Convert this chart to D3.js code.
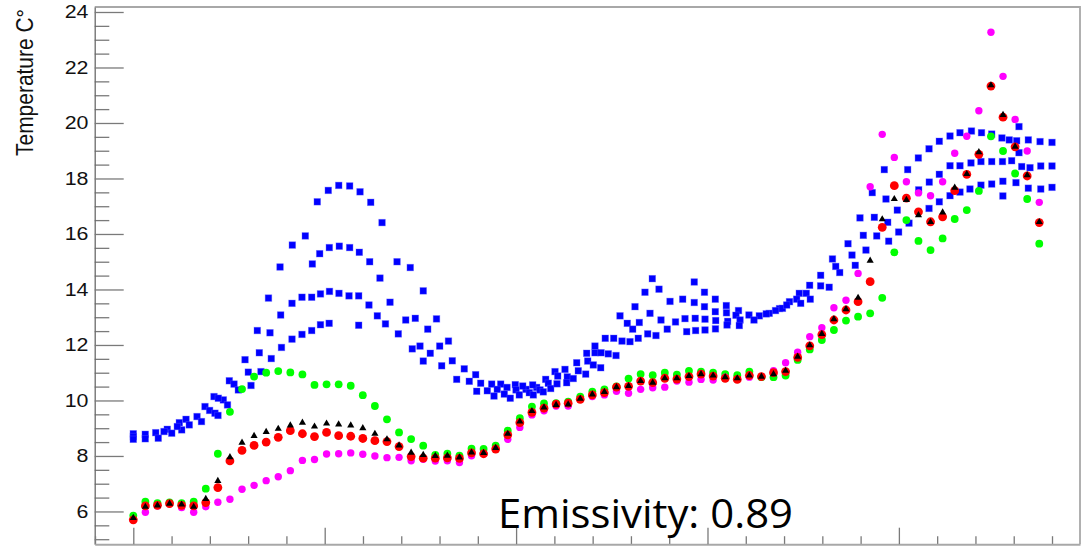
<!DOCTYPE html>
<html>
<head>
<meta charset="utf-8">
<script src="https://cdn.jsdelivr.net/npm/d3@7/dist/d3.min.js"></script>
<style>
  html, body { margin: 0; padding: 0; background: #fff; overflow: hidden; }
  svg { display: block; }
</style>
</head>
<body>
<svg id="chart" width="1084" height="551"></svg>
<script>
// Logger sample interval (hours) for the four computed series
const sampleStep = 1.5147;

// Computed surface temperatures, one value per sample (deg C)
const greenTemps = [5.85,6.35,6.30,6.33,6.30,6.35,6.82,8.08,9.59,10.41,10.86,11.00,11.06,11.01,10.94,10.56,10.58,10.58,10.53,10.19,
  9.80,9.32,8.85,8.61,8.37,8.04,8.08,8.01,8.26,8.25,8.37,8.91,9.36,9.78,9.89,9.90,9.96,10.14,10.32,10.40,
  10.51,10.79,10.95,10.91,11.00,10.93,11.07,11.04,11.00,10.95,10.91,11.04,10.84,10.84,10.90,11.46,11.84,12.18,12.54,12.88,
  13.02,13.14,13.70,15.34,16.50,15.75,15.42,15.84,16.54,16.86,17.55,19.52,18.99,18.18,17.26,15.65];

const magentaTemps = [5.69,5.97,6.20,6.28,6.14,5.97,6.17,6.33,6.44,6.80,6.94,7.11,7.25,7.47,7.84,7.87,8.07,8.08,8.11,8.06,
  8.00,7.94,7.95,7.83,7.88,7.82,7.83,7.76,8.01,8.08,8.25,8.60,9.03,9.48,9.63,9.80,9.80,10.04,10.14,10.20,
  10.33,10.26,10.40,10.46,10.48,10.70,10.66,10.76,10.74,10.84,10.77,10.84,10.86,11.07,11.36,11.74,12.30,12.62,13.34,13.61,
  14.58,17.70,19.59,18.76,17.88,17.48,17.38,17.88,18.91,19.52,20.44,23.27,21.68,20.13,18.99,17.14];

const redTemps = [5.70,6.20,6.22,6.28,6.22,6.20,6.32,6.86,7.82,8.20,8.38,8.50,8.67,8.91,8.80,8.70,8.85,8.73,8.71,8.63,
  8.55,8.52,8.34,7.98,7.92,7.92,7.93,7.91,8.11,8.08,8.25,8.76,9.20,9.57,9.72,9.87,9.90,10.04,10.20,10.28,
  10.48,10.51,10.70,10.64,10.80,10.77,10.86,10.95,10.88,10.80,10.76,10.90,10.86,11.00,11.04,11.55,11.97,12.37,12.90,13.26,
  13.56,14.28,16.24,17.74,17.29,16.80,16.44,16.62,17.56,18.15,18.87,21.33,20.21,19.14,18.09,16.41];

const blackTemps = [5.77,6.17,6.22,6.28,6.25,6.17,6.45,7.10,7.96,8.48,8.72,8.87,8.98,9.10,9.20,9.06,9.17,9.14,9.10,9.00,
  8.80,8.60,8.38,8.12,8.04,8.00,8.01,7.95,8.13,8.11,8.29,8.80,9.24,9.62,9.75,9.84,9.86,10.06,10.22,10.31,
  10.48,10.52,10.70,10.64,10.80,10.80,10.88,10.95,10.90,10.84,10.80,10.90,10.86,10.95,11.07,11.58,11.99,12.40,12.93,13.29,
  13.70,15.04,16.53,17.26,17.23,16.68,16.43,16.78,17.67,18.16,18.95,21.36,20.29,19.15,18.12,16.43];

// Thermocouple readings: [hours, deg C]
const probe1 = [[0,8.80],[1.50,8.78],[2.81,8.84],[4.26,8.96],[5.77,9.20],[6.61,9.32],[7.99,9.42],[8.99,9.78],[10.12,10.14],[11.29,10.02],
  [12.04,10.71],[12.63,10.59],[14.01,11.47],[15.55,12.52],[16.95,13.69],[18.40,14.81],[19.94,15.60],[21.57,15.93],[23.07,17.16],[24.45,17.57],
  [25.76,17.75],[27.13,17.73],[28.43,17.52],[29.77,17.14],[31.19,16.41],[33.07,15.00],[34.73,14.79],[36.36,13.95],[38.02,12.94],[39.52,12.14],
  [41.50,11.14],[42.93,10.93],[44.94,10.59],[46.07,10.59],[47.90,10.57],[49.24,10.40],[50.58,10.47],[51.71,10.76],[52.88,11.04],[54.13,11.12],
  [55.60,11.36],[56.85,11.70],[57.89,11.96],[59.18,12.24],[61.03,13.05],[62.91,13.38],[64.16,13.90],[65.08,14.39],[65.92,14.01],[67.30,13.57],
  [68.89,13.65],[70.34,14.27],[71.62,13.90],[72.98,13.65],[74.36,13.42],[75.89,13.24],[77.20,13.08],[78.50,13.05],[79.74,13.14],[81.03,13.31],
  [82.28,13.56],[83.51,13.86],[84.81,14.15],[86.19,14.51],[87.67,15.10],[89.62,15.65],[91.12,16.58],[92.66,17.49],[94.17,18.32],[97.10,18.32],
  [98.44,18.74],[99.78,19.07],[101.07,19.34],[102.41,19.53],[103.66,19.65],[105.10,19.71],[106.36,19.65],[107.64,19.60],[108.92,19.46],[110.77,19.36],
  [112.23,19.39],[113.70,19.33],[115.20,19.30]];

const probe2 = [[0,8.70],[1.50,8.62],[3.13,8.64],[4.82,8.82],[6.07,8.94],[8.55,9.24],[9.57,9.64],[10.66,10.08],[11.81,9.84],[13.17,10.38],
  [14.42,11.02],[15.80,11.72],[17.14,12.44],[18.48,13.08],[19.90,13.50],[21.15,13.72],[22.45,14.92],[23.37,15.29],[24.58,15.51],[25.83,15.56],
  [27.13,15.51],[28.34,15.34],[29.64,15.00],[30.93,14.41],[32.19,13.54],[34.16,12.90],[35.36,12.96],[36.92,12.57],[38.42,11.96],[40.00,11.43],
  [42.13,10.69],[43.56,10.62],[45.64,10.40],[46.86,10.47],[48.83,10.52],[50.08,10.56],[52.04,10.62],[53.22,10.88],[54.42,10.85],[55.80,11.07],
  [56.98,11.42],[57.89,11.72],[58.65,11.72],[60.24,12.24],[61.94,12.78],[63.45,12.81],[64.79,13.14],[66.17,12.90],[67.99,12.83],[69.18,12.95],
  [70.34,13.53],[71.62,13.38],[72.98,13.20],[74.38,13.16],[75.57,13.07],[76.08,12.90],[77.83,12.90],[79.37,13.12],[80.53,13.24],[81.40,13.32],
  [81.93,13.44],[83.18,13.65],[84.39,13.86],[86.19,14.13],[88.08,14.83],[90.12,15.24],[91.54,15.95],[92.92,16.60],[94.38,17.26],[95.80,16.86],
  [97.27,16.39],[98.48,17.59],[99.81,17.87],[101.07,18.15],[102.41,18.46],[103.66,18.46],[105.04,18.56],[106.29,18.61],[107.64,18.61],[108.99,18.61],
  [110.14,18.64],[111.06,19.87],[112.44,18.39],[113.79,18.45],[115.20,18.45]];

const probe3 = [[0,8.60],[5.52,9.06],[7.02,9.12],[10.24,9.54],[14.76,10.54],[16.01,11.04],[17.30,11.51],[18.58,11.91],[19.90,12.21],[21.15,12.38],
  [22.37,13.72],[23.47,13.84],[24.60,13.93],[25.79,13.86],[27.05,13.77],[28.26,13.77],[29.55,13.44],[30.60,13.05],[31.62,12.76],[33.23,12.40],
  [34.98,11.86],[35.95,11.96],[37.24,11.70],[38.67,11.25],[40.55,10.76],[43.06,10.33],[44.39,10.35],[45.23,10.16],[46.52,10.23],[47.99,10.38],
  [49.66,10.28],[50.16,10.20],[51.00,10.38],[52.34,10.43],[53.13,10.60],[54.34,10.64],[55.17,10.79],[56.73,10.95],[57.68,11.28],[58.61,11.18],
  [59.56,11.68],[60.53,11.62],[61.28,12.14],[62.62,12.57],[63.32,12.24],[64.50,12.40],[65.54,12.34],[66.95,12.57],[69.39,12.48],[70.46,12.96],
  [71.69,12.93],[73.03,12.88],[74.53,12.85],[75.99,12.70],[83.69,13.50],[84.89,13.65],[87.26,14.08],[88.58,14.61],[90.53,14.87],[91.87,15.42],
  [93.22,15.93],[94.72,15.74],[95.97,16.07],[99.78,16.92],[101.07,17.16],[102.41,17.38],[103.66,17.51],[104.91,17.62],[106.29,17.76],[107.64,17.80],
  [109.04,17.90],[110.68,17.85],[112.23,17.65],[113.79,17.62],[115.20,17.68]];

const probe4 = [[3.85,8.88],[10.62,9.46],[22.37,12.52],[23.47,12.73],[24.56,12.78],[28.26,12.71],[36.36,11.42],[47.27,10.08],[48.40,10.20],[51.41,10.31],
  [62.28,12.12],[70.51,12.52],[71.69,12.54],[73.00,12.58],[74.45,12.72],[94.60,16.42],[109.04,17.37],[109.84,19.39],[111.06,18.93],[111.40,18.43]];

// Axis ticks
const yMajorTicks = [6, 8, 10, 12, 14, 16, 18, 20, 22, 24];
const xMajorTicks = [0, 24, 48, 72, 96];
const xTickLabels = ["0", "24", "48", "72", "96"];
const yTitle = "Temperature C\u00B0";
const noteText = "Emissivity: 0.89";

const svg = d3.select("#chart");
svg.append("rect").attr("width", 1084).attr("height", 551).attr("fill", "#fff");

const x = d3.scaleLinear().domain([-4.84, 118.71]).range([94.7, 1080]);
const y = d3.scaleLinear().domain([4.82, 24.18]).range([544.2, 7]);

const [x0, x1] = x.range();
const [yb, yt] = y.range();

// frame (top and right edges)
svg.append("path")
  .attr("d", `M${x0},${yt}H${x1}V${yb}`)
  .attr("fill", "none").attr("stroke", "#a8a8a8").attr("stroke-width", 1.8);

// y minor ticks every 0.5
const yMinor = d3.range(5, 24.01, 0.5).filter(v => !yMajorTicks.includes(v));
svg.append("g").attr("transform", `translate(${x0},0)`)
  .call(d3.axisLeft(y).tickValues(yMinor).tickSize(-14.6).tickSizeOuter(0).tickFormat(""))
  .call(g => g.select(".domain").remove())
  .call(g => g.selectAll("line").attr("stroke", "#7a7a7a").attr("stroke-width", 1.3));

// y major ticks + labels
const yAxis = svg.append("g").attr("transform", `translate(${x0},0)`)
  .call(d3.axisLeft(y).tickValues(yMajorTicks).tickSize(-29).tickSizeOuter(0).tickPadding(5.4).tickFormat(d3.format("d")));
yAxis.select(".domain").attr("stroke", "#6a6a6a").attr("stroke-width", 1.3);
yAxis.selectAll("line").attr("stroke", "#7a7a7a").attr("stroke-width", 1.3);
yAxis.selectAll("text")
  .attr("font-family", "'Liberation Sans', Arial, sans-serif")
  .attr("font-size", 18.6).attr("fill", "#111")
  .attr("transform", "scale(1.15,1)");

// x minor ticks (5 per major division)
const xMinor = d3.range(-4.8, 118.7, 4.8).filter(v => !xMajorTicks.some(m => Math.abs(m - v) < 0.01));
svg.append("g").attr("transform", `translate(0,${yb})`)
  .call(d3.axisBottom(x).tickValues(xMinor).tickSize(-8).tickSizeOuter(0).tickFormat(""))
  .call(g => g.select(".domain").remove())
  .call(g => g.selectAll("line").attr("stroke", "#7a7a7a").attr("stroke-width", 1.3));

// x major ticks; the labels sit below the bottom of the canvas, only their tops show
const xAxis = svg.append("g").attr("transform", `translate(0,${yb})`)
  .call(d3.axisBottom(x).tickValues(xMajorTicks).tickSize(-16.5).tickSizeOuter(0).tickPadding(6.8)
    .tickFormat((d, i) => xTickLabels[i]));
xAxis.select(".domain").attr("stroke", "#a8a8a8").attr("stroke-width", 2);
xAxis.selectAll("line").attr("stroke", "#7a7a7a").attr("stroke-width", 1.3);
xAxis.selectAll("text")
  .attr("font-family", "'Liberation Sans', Arial, sans-serif")
  .attr("font-size", 18.6).attr("fill", "#555")
  .attr("transform", "scale(1.15,1)");

// y title
svg.append("text")
  .attr("transform", "translate(32.6,9) rotate(-90) scale(1,1.12)")
  .attr("text-anchor", "end")
  .attr("font-family", "'Liberation Sans', Arial, sans-serif")
  .attr("font-size", 20.6)
  .attr("textLength", 147).attr("lengthAdjust", "spacingAndGlyphs")
  .attr("fill", "#111")
  .text(yTitle);

// markers
const plot = svg.append("g");

const probes = [probe1, probe2, probe3, probe4];
const sq = 6.6;
plot.append("g").selectAll("rect")
  .data(probes.flat())
  .join("rect")
  .attr("x", d => x(d[0]) - sq / 2)
  .attr("y", d => y(d[1]) - sq / 2)
  .attr("width", sq).attr("height", sq)
  .attr("fill", "#0000ff")
  .attr("stroke", "rgba(90,90,255,0.45)").attr("stroke-width", 0.8);

function circles(values, color, r) {
  plot.append("g").selectAll("circle")
    .data(values)
    .join("circle")
    .attr("cx", (d, i) => x(i * sampleStep))
    .attr("cy", d => y(d))
    .attr("r", r)
    .attr("fill", color);
}
circles(greenTemps, "#00ff00", 3.9);
circles(magentaTemps, "#ff00ff", 3.7);
circles(redTemps, "#ff0000", 4.4);

const tri = d3.symbol().type(d3.symbolTriangle).size(22);
plot.append("g").selectAll("path")
  .data(blackTemps)
  .join("path")
  .attr("transform", (d, i) => `translate(${x(i * sampleStep)},${y(d)})`)
  .attr("d", tri)
  .attr("fill", "#000");

// annotation
svg.append("text")
  .attr("x", 498).attr("y", 528)
  .attr("font-family", "'Open Sans', 'Noto Sans', sans-serif")
  .attr("font-size", 40.5)
  .attr("textLength", 295).attr("lengthAdjust", "spacingAndGlyphs")
  .attr("fill", "#000")
  .text(noteText);
</script>
</body>
</html>
